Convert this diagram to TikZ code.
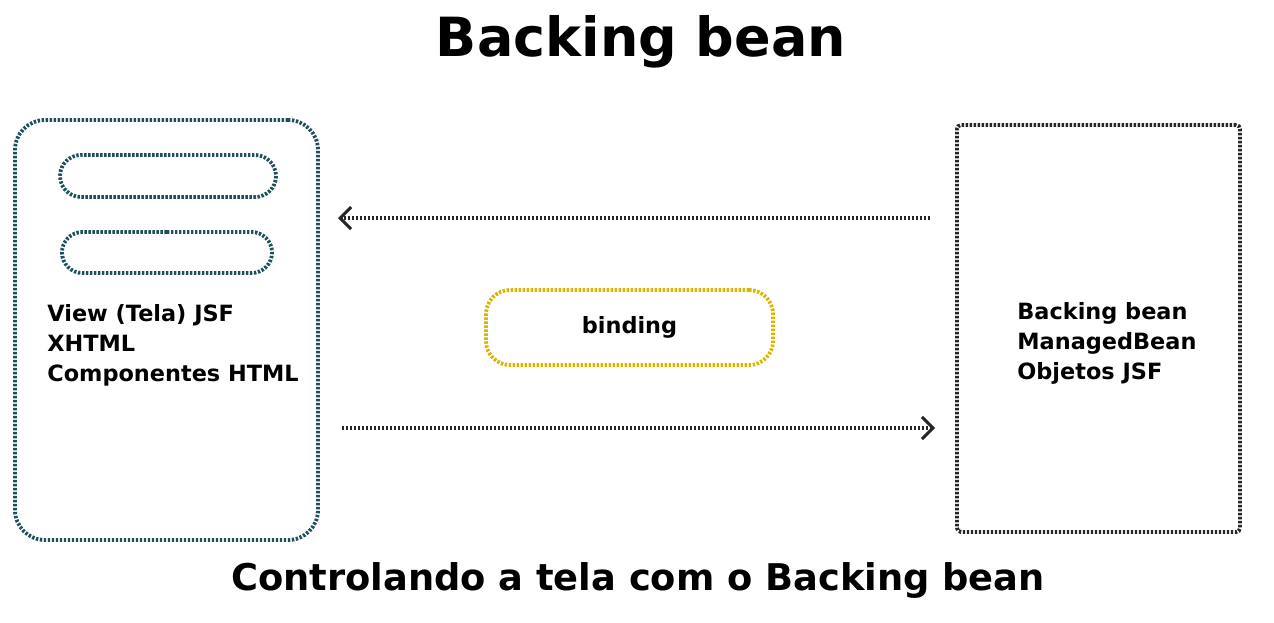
\documentclass[tikz,border=0pt]{standalone}
\usepackage{fontspec}
\setmainfont{DejaVu Sans}
\usetikzlibrary{arrows.meta,shapes.misc}
\definecolor{tealdot}{HTML}{1E4F5A}
\definecolor{yellowdot}{HTML}{D9B400}
\tikzset{
  dotline/.style={line width=1.9pt, dash pattern=on 1.2pt off 0.8pt},
  body/.style={font=\bfseries\fontsize{11.2}{15}\selectfont, align=left, anchor=north west, inner sep=0pt},
  arrowline/.style={dotline, draw=black!85, -{Straight Barb[length=5.5pt,width=11pt,line width=1.5pt]}},
}
\begin{document}
\begin{tikzpicture}[x=0.5pt,y=-0.5pt]
\useasboundingbox[fill=white] (0,0) rectangle (1274,622);
\node (title) at (641,42) {\bfseries\fontsize{27}{32}\selectfont Backing bean};
\node (sub) at (638,580) {\bfseries\fontsize{18.4}{22}\selectfont Controlando a tela com o Backing bean};
\node[dotline, draw=tealdot, rounded corners=15pt, minimum width=151.5pt, minimum height=210pt] (view) at (166.5,330) {};
\node[dotline, draw=tealdot, rounded rectangle, minimum width=108pt, minimum height=21pt, inner sep=0pt] (c1) at (168,176) {};
\node[dotline, draw=tealdot, rounded rectangle, minimum width=105pt, minimum height=20.5pt, inner sep=0pt] (c2) at (167,252.5) {};
\node[body] (vt) at (47,304) {View (Tela) JSF\\XHTML\\Componentes HTML};
\node[dotline, draw=black!85, rounded corners=2pt, minimum width=141.5pt, minimum height=203.5pt] (bean) at (1098.5,328.5) {};
\node[body] (bt) at (1017,302) {Backing bean\\ManagedBean\\Objetos JSF};
\node[dotline, draw=yellowdot, rounded corners=12pt, minimum width=143.5pt, minimum height=37.5pt, font=\bfseries\fontsize{11.2}{12}\selectfont] (bind) at (629.5,327.5) {binding};
\coordinate (a1s) at (930,218);
\coordinate (a1e) at (338,218);
\coordinate (a2s) at (342,428);
\coordinate (a2e) at (935,428);
\draw[arrowline] (a1s) -- (a1e);
\draw[arrowline] (a2s) -- (a2e);
\end{tikzpicture}
\end{document}
